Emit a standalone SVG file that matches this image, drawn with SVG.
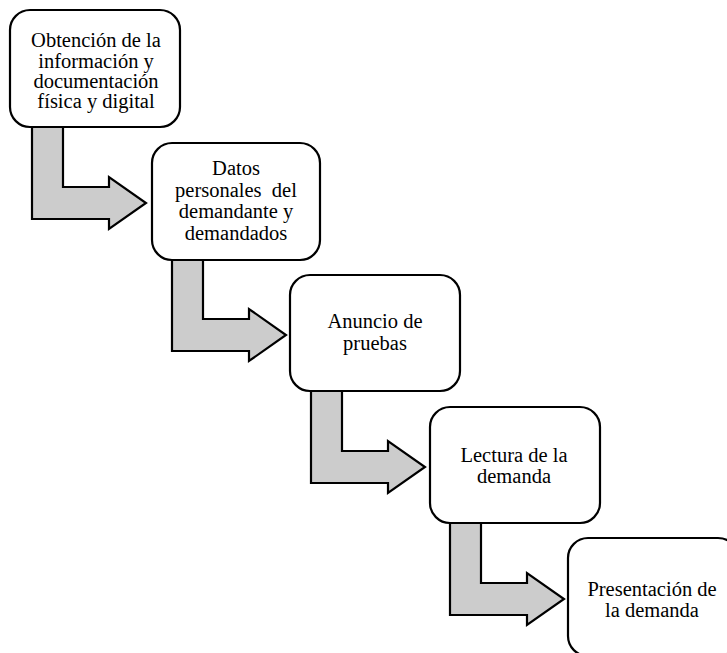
<svg xmlns="http://www.w3.org/2000/svg" width="727" height="653" viewBox="0 0 727 653">
  <defs>
    <!-- L-shaped block arrow: stem down from the box above, then right into the next box -->
    <path id="elbow" d="M0,0 L31,0 L31,60 L77,60 L77,50 L114,76 L77,102 L77,92 L0,92 Z"/>
  </defs>
  <style>
    .box { fill: #ffffff; stroke: #000000; stroke-width: 2.2; }
    .arrow { fill: #cccccc; stroke: #000000; stroke-width: 2.2; stroke-linejoin: miter; }
    .label { font-family: "Liberation Serif", "Times New Roman", serif; font-size: 20.5px; fill: #000000; text-anchor: middle; }
  </style>
  <rect width="727" height="653" fill="#ffffff"/>

  <g id="connectors">
    <use href="#elbow" class="arrow" transform="translate(32,127)"/>
    <use href="#elbow" class="arrow" transform="translate(172,259)"/>
    <use href="#elbow" class="arrow" transform="translate(311,391)"/>
    <use href="#elbow" class="arrow" transform="translate(450,523)"/>
  </g>

  <g id="step1">
    <rect class="box" x="10" y="10" width="170" height="117" rx="20" ry="20"/>
    <text class="label" x="96" y="47">Obtención de la</text>
    <text class="label" x="96" y="68">información y</text>
    <text class="label" x="96" y="88">documentación</text>
    <text class="label" x="96" y="108">física y digital</text>
  </g>

  <g id="step2">
    <rect class="box" x="152" y="143" width="168" height="117" rx="20" ry="20"/>
    <text class="label" x="236" y="175">Datos</text>
    <text class="label" x="236" y="197" style="white-space:pre">personales  del</text>
    <text class="label" x="236" y="218">demandante y</text>
    <text class="label" x="236" y="240">demandados</text>
  </g>

  <g id="step3">
    <rect class="box" x="290" y="275" width="170" height="116" rx="20" ry="20"/>
    <text class="label" x="375" y="328">Anuncio de</text>
    <text class="label" x="375" y="350">pruebas</text>
  </g>

  <g id="step4">
    <rect class="box" x="430" y="407" width="170" height="116" rx="20" ry="20"/>
    <text class="label" x="514" y="462">Lectura de la</text>
    <text class="label" x="514" y="483">demanda</text>
  </g>

  <g id="step5">
    <rect class="box" x="568" y="538" width="170" height="118" rx="20" ry="20"/>
    <text class="label" x="652" y="596">Presentación de</text>
    <text class="label" x="652" y="617">la demanda</text>
  </g>
</svg>
